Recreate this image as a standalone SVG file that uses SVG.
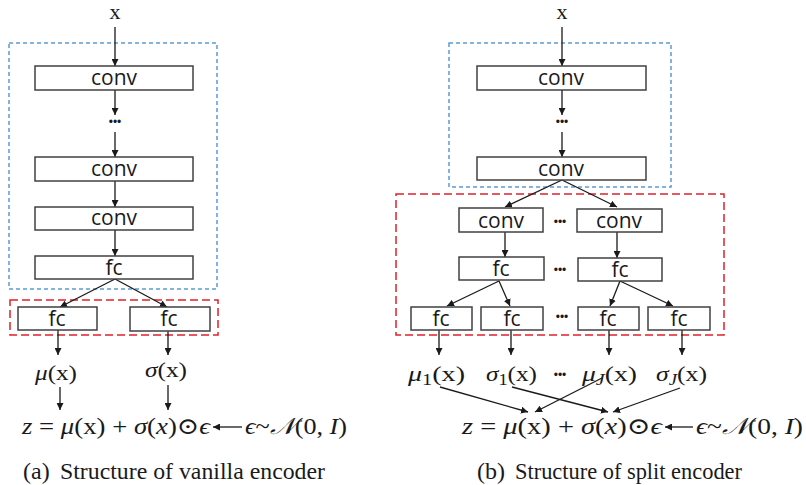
<svg xmlns="http://www.w3.org/2000/svg" width="806" height="485" viewBox="0 0 806 485">
<defs>
<marker id="ah" viewBox="0 0 10 10" refX="10" refY="5" markerWidth="7" markerHeight="7" markerUnits="userSpaceOnUse" orient="auto">
<path d="M0,0 L10,5 L0,10 z" fill="#1a1a1a"/>
</marker>
<style>
.box{fill:#fff;stroke:#404040;stroke-width:1.5}
.lbl{font-family:"Open Sans","Liberation Sans",sans-serif;font-size:21px;fill:#1a1a1a;text-anchor:middle}
.dots{font-family:"Liberation Sans",sans-serif;font-size:12px;fill:#1a1a1a;text-anchor:middle}
.blue{fill:none;stroke:#5B9BD5;stroke-width:1.5;stroke-dasharray:4 3}
.red{fill:none;stroke:#E0202A;stroke-width:1.5;stroke-dasharray:8 4}
.c{fill:none;stroke:#1a1a1a;stroke-width:1.3;marker-end:url(#ah)}
.m{font-family:"Liberation Serif","DejaVu Serif",serif;font-size:23px;fill:#1a1a1a}
.l{font-family:"Liberation Serif","DejaVu Serif",serif;font-size:22px;fill:#1a1a1a}
.i{font-style:italic}
.cap{font-family:"Liberation Serif",serif;font-size:24px;fill:#1a1a1a}
</style>
</defs>
<rect width="806" height="485" fill="#fff"/>

<g id="groups">
<rect class="blue" x="9" y="43" width="208" height="246"/>
<rect class="red" x="10" y="300" width="208" height="35"/>
<rect class="blue" x="449" y="43" width="222" height="144"/>
<rect class="red" x="396" y="194" width="328" height="141"/>
</g>

<g id="connectors">
<line class="c" x1="115" y1="27" x2="115" y2="66"/>
<line class="c" x1="115" y1="90" x2="115" y2="115"/>
<line class="c" x1="115" y1="132" x2="115" y2="157"/>
<line class="c" x1="115" y1="181" x2="115" y2="207"/>
<line class="c" x1="115" y1="230" x2="115" y2="256"/>
<line class="c" x1="115" y1="279" x2="60" y2="307"/>
<line class="c" x1="115" y1="279" x2="167" y2="307"/>
<line class="c" x1="58" y1="330" x2="58" y2="355"/>
<line class="c" x1="168" y1="331" x2="168" y2="355"/>
<line class="c" x1="60" y1="387" x2="60" y2="410"/>
<line class="c" x1="168" y1="385" x2="168" y2="410"/>
<line class="c" x1="242" y1="427" x2="213" y2="427"/>
<line class="c" x1="562" y1="27" x2="562" y2="66"/>
<line class="c" x1="562" y1="90" x2="562" y2="115"/>
<line class="c" x1="562" y1="132" x2="562" y2="157"/>
<line class="c" x1="562" y1="180" x2="505" y2="207"/>
<line class="c" x1="562" y1="180" x2="617" y2="207"/>
<line class="c" x1="505" y1="232" x2="505" y2="257"/>
<line class="c" x1="617" y1="232" x2="617" y2="258"/>
<line class="c" x1="499" y1="281" x2="447" y2="306"/>
<line class="c" x1="499" y1="281" x2="510" y2="306"/>
<line class="c" x1="620" y1="281" x2="610" y2="306"/>
<line class="c" x1="620" y1="281" x2="673" y2="306"/>
<line class="c" x1="439" y1="330" x2="439" y2="355"/>
<line class="c" x1="511" y1="330" x2="511" y2="355"/>
<line class="c" x1="609" y1="330" x2="609" y2="355"/>
<line class="c" x1="682" y1="330" x2="682" y2="355"/>
<line class="c" x1="440" y1="387" x2="528" y2="412"/>
<line class="c" x1="512" y1="387" x2="608" y2="412"/>
<line class="c" x1="602" y1="378" x2="535" y2="412"/>
<line class="c" x1="680" y1="388" x2="613" y2="412"/>
<line class="c" x1="693" y1="427" x2="665" y2="427"/>
</g>

<g id="a-x"><text class="l" x="115" y="19" font-size="20" text-anchor="middle">x</text></g>
<g id="a-conv1"><rect class="box" x="35" y="66" width="158" height="24"/><text class="lbl" x="114" y="85">conv</text></g>
<g id="a-dots"><text class="dots" x="115" y="126">•••</text></g>
<g id="a-conv2"><rect class="box" x="35" y="157" width="158" height="24"/><text class="lbl" x="114" y="176">conv</text></g>
<g id="a-conv3"><rect class="box" x="35" y="207" width="158" height="23"/><text class="lbl" x="114" y="225">conv</text></g>
<g id="a-fc"><rect class="box" x="35" y="256" width="158" height="23"/><text class="lbl" x="114" y="275">fc</text></g>
<g id="a-fc-mu"><rect class="box" x="18" y="307" width="79" height="23"/><text class="lbl" x="57" y="326">fc</text></g>
<g id="a-fc-sigma"><rect class="box" x="130" y="307" width="80" height="24"/><text class="lbl" x="169" y="326">fc</text></g>
<g id="a-mu"><text class="l" x="35" y="380" textLength="42" lengthAdjust="spacingAndGlyphs"><tspan class="i">μ</tspan>(x)</text></g>
<g id="a-sigma"><text class="l" x="145" y="377" textLength="42" lengthAdjust="spacingAndGlyphs"><tspan class="i">σ</tspan>(x)</text></g>
<g id="a-z"><text class="m" x="22" y="434" textLength="188" lengthAdjust="spacingAndGlyphs"><tspan class="i">z</tspan> = <tspan class="i">μ</tspan>(x) + <tspan class="i">σ</tspan>(<tspan class="i">x</tspan>)⊙<tspan class="i">ϵ</tspan></text></g>
<g id="a-eps"><text class="m" x="245" y="434" textLength="102" lengthAdjust="spacingAndGlyphs"><tspan class="i">ϵ</tspan>~<tspan class="i">𝒩</tspan>(0, <tspan class="i">I</tspan>)</text></g>
<text class="cap" x="23" y="479">(a)<tspan x="60" textLength="265" lengthAdjust="spacingAndGlyphs">Structure of vanilla encoder</tspan></text>

<g id="b-x"><text class="l" x="562" y="19" font-size="20" text-anchor="middle">x</text></g>
<g id="b-conv1"><rect class="box" x="477" y="66" width="169" height="24"/><text class="lbl" x="561" y="85">conv</text></g>
<g id="b-dots"><text class="dots" x="562" y="126">•••</text></g>
<g id="b-conv2"><rect class="box" x="477" y="157" width="169" height="23"/><text class="lbl" x="561" y="176">conv</text></g>
<g id="b-convL"><rect class="box" x="459" y="208" width="84" height="24"/><text class="lbl" x="501" y="228">conv</text></g>
<g id="b-dots1"><text class="dots" x="560" y="226">•••</text></g>
<g id="b-convR"><rect class="box" x="577" y="209" width="85" height="23"/><text class="lbl" x="619" y="228">conv</text></g>
<g id="b-fcL"><rect class="box" x="459" y="257" width="85" height="23"/><text class="lbl" x="501" y="276">fc</text></g>
<g id="b-dots2"><text class="dots" x="560" y="274">•••</text></g>
<g id="b-fcR"><rect class="box" x="578" y="258" width="84" height="23"/><text class="lbl" x="620" y="277">fc</text></g>
<g id="b-fc1"><rect class="box" x="411" y="307" width="61" height="23"/><text class="lbl" x="441" y="326">fc</text></g>
<g id="b-fc2"><rect class="box" x="481" y="307" width="62" height="23"/><text class="lbl" x="512" y="326">fc</text></g>
<g id="b-dots3"><text class="dots" x="562" y="321">•••</text></g>
<g id="b-fc3"><rect class="box" x="578" y="307" width="61" height="23"/><text class="lbl" x="608" y="326">fc</text></g>
<g id="b-fc4"><rect class="box" x="648" y="307" width="62" height="23"/><text class="lbl" x="679" y="326">fc</text></g>
<g id="b-mu1"><text class="l" x="408" y="381" textLength="57" lengthAdjust="spacingAndGlyphs"><tspan class="i">μ</tspan><tspan font-size="16" dy="4">1</tspan><tspan dy="-4">(x)</tspan></text></g>
<g id="b-sigma1"><text class="l" x="486" y="381" textLength="51" lengthAdjust="spacingAndGlyphs"><tspan class="i">σ</tspan><tspan font-size="16" dy="4">1</tspan><tspan dy="-4">(x)</tspan></text></g>
<g id="b-dots4"><text class="dots" x="560" y="379">•••</text></g>
<g id="b-muJ"><text class="l" x="582" y="381" textLength="55" lengthAdjust="spacingAndGlyphs"><tspan class="i">μ</tspan><tspan class="i" font-size="16" dy="4">J</tspan><tspan dy="-4">(x)</tspan></text></g>
<g id="b-sigmaJ"><text class="l" x="656" y="381" textLength="51" lengthAdjust="spacingAndGlyphs"><tspan class="i">σ</tspan><tspan class="i" font-size="16" dy="4">J</tspan><tspan dy="-4">(x)</tspan></text></g>
<g id="b-z"><text class="m" x="462" y="434" textLength="200" lengthAdjust="spacingAndGlyphs"><tspan class="i">z</tspan> = <tspan class="i">μ</tspan>(x) + <tspan class="i">σ</tspan>(<tspan class="i">x</tspan>)⊙<tspan class="i">ϵ</tspan></text></g>
<g id="b-eps"><text class="m" x="696" y="434" textLength="107" lengthAdjust="spacingAndGlyphs"><tspan class="i">ϵ</tspan>~<tspan class="i">𝒩</tspan>(0, <tspan class="i">I</tspan>)</text></g>
<text class="cap" x="477" y="479">(b)<tspan x="515" textLength="227" lengthAdjust="spacingAndGlyphs">Structure of split encoder</tspan></text>
</svg>
